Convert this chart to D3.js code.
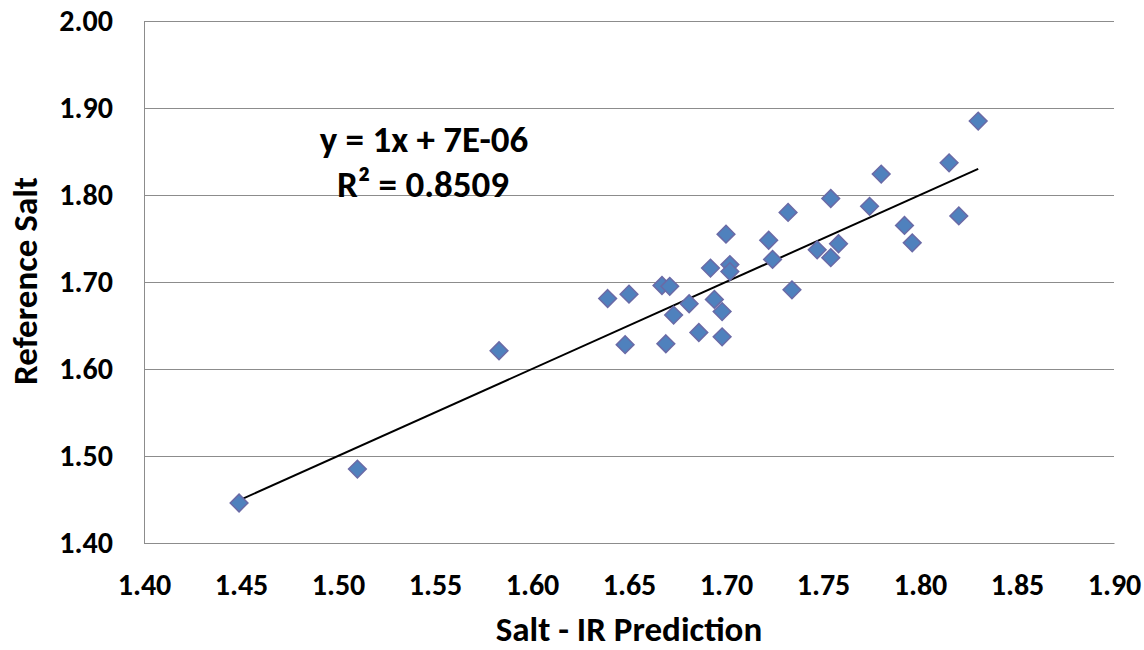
<!DOCTYPE html>
<html>
<head>
<meta charset="utf-8">
<script src="https://cdn.jsdelivr.net/npm/d3@7"></script>
<style>
  body { margin: 0; background: #fff; }
  text { font-family: Carlito, Calibri, Lato, sans-serif; font-weight: bold; fill: #000; }
</style>
</head>
<body>
<div id="vis"></div>
<script>
// data
let predicted = [1.449, 1.510, 1.583, 1.639, 1.650, 1.648, 1.667, 1.671, 1.669, 1.673,
    1.681, 1.686, 1.692, 1.694, 1.698, 1.698, 1.700, 1.702, 1.702, 1.722,
    1.724, 1.732, 1.734, 1.747, 1.754, 1.754, 1.758, 1.774, 1.780, 1.792,
    1.796, 1.815, 1.820, 1.830]
let reference = [1.446, 1.485, 1.621, 1.681, 1.686, 1.628, 1.696, 1.695, 1.629, 1.662,
    1.675, 1.642, 1.716, 1.680, 1.666, 1.637, 1.755, 1.720, 1.712, 1.748,
    1.726, 1.780, 1.691, 1.737, 1.728, 1.796, 1.744, 1.787, 1.824, 1.765,
    1.745, 1.837, 1.776, 1.885]
let xTicks = [1.40, 1.45, 1.50, 1.55, 1.60, 1.65, 1.70, 1.75, 1.80, 1.85, 1.90]
let yTicks = [1.40, 1.50, 1.60, 1.70, 1.80, 1.90, 2.00]
let trend = { slope: 1, intercept: 7e-6 }
let equationLines = ["y = 1x + 7E-06", "R² = 0.8509"]

let svgWidth = 1144
let svgHeight = 650
let margin = { left: 144, right: 30, top: 21, bottom: 107 }
let width = svgWidth - margin.left - margin.right
let height = svgHeight - margin.top - margin.bottom

let data = predicted.map((p, i) => ({ x: p, y: reference[i] }))

let svg = d3.select('#vis')
    .append('svg')
    .attr('width', svgWidth)
    .attr('height', svgHeight)

let g = svg.append('g')
    .attr('transform', `translate(${margin.left},${margin.top})`)

// scales
let xScale = d3.scaleLinear().domain([1.40, 1.90]).range([0, width])
let yScale = d3.scaleLinear().domain([1.40, 2.00]).range([height, 0])

// gridlines
g.append('g')
    .attr('class', 'grid')
    .call(d3.axisLeft(yScale).tickValues(yTicks).tickSize(-width).tickFormat(''))
    .call(s => s.select('.domain').remove())
    .call(s => s.selectAll('line').attr('stroke', '#8c8c8c').attr('stroke-width', 1))

// x axis
g.append('g')
    .attr('transform', `translate(0,${height})`)
    .call(d3.axisBottom(xScale).tickValues(xTicks).tickSize(0).tickPadding(31).tickFormat(d3.format('.2f')))
    .call(s => s.select('.domain').attr('stroke', '#8c8c8c'))
    .call(s => s.selectAll('text').style('font-size', '30px'))

// y axis
g.append('g')
    .call(d3.axisLeft(yScale).tickValues(yTicks).tickSize(0).tickPadding(31).tickFormat(d3.format('.2f')))
    .call(s => s.select('.domain').attr('stroke', '#8c8c8c'))
    .call(s => s.selectAll('text').style('font-size', '30px'))

// trendline over the data range
let xExt = d3.extent(predicted)
let line = d3.line()
    .x(d => xScale(d))
    .y(d => yScale(trend.slope * d + trend.intercept))
g.append('path')
    .datum(xExt)
    .attr('d', line)
    .attr('fill', 'none')
    .attr('stroke', '#000')
    .attr('stroke-width', 2)

// points
let diamond = d3.symbol().type(d3.symbolDiamond2).size(200)
g.selectAll('path.pt')
    .data(data)
    .join('path')
    .attr('class', 'pt')
    .attr('d', diamond)
    .attr('transform', d => `translate(${xScale(d.x)},${yScale(d.y)})`)
    .attr('fill', '#4f81bd')
    .attr('stroke', '#6a6aa6')
    .attr('stroke-width', 1.5)

// equation label
svg.append('text')
    .attr('x', 424)
    .attr('y', 152)
    .attr('text-anchor', 'middle')
    .style('font-size', '37px')
    .text(equationLines[0])
svg.append('text')
    .attr('x', 423)
    .attr('y', 197)
    .attr('text-anchor', 'middle')
    .style('font-size', '37px')
    .text(equationLines[1])

// axis titles
svg.append('text')
    .attr('x', 629)
    .attr('y', 641)
    .attr('text-anchor', 'middle')
    .style('font-size', '35px')
    .text('Salt - IR Prediction')

svg.append('text')
    .attr('transform', 'translate(37,281) rotate(-90)')
    .attr('text-anchor', 'middle')
    .style('font-size', '35px')
    .text('Reference Salt')
</script>
</body>
</html>
